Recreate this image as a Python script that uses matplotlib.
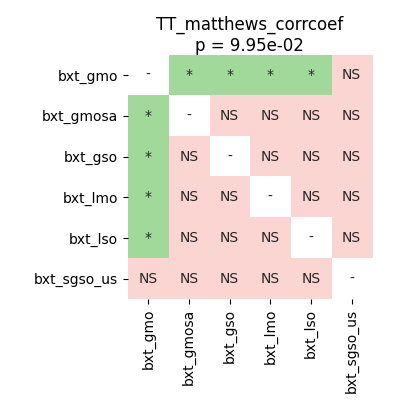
import numpy as np
import matplotlib
matplotlib.use("Agg")
import matplotlib.pyplot as plt
from matplotlib.colors import ListedColormap

labels = ['bxt_gmo', 'bxt_gmosa', 'bxt_gso', 'bxt_lmo', 'bxt_lso', 'bxt_sgso_us']
# significance annotations, row by row
annot = [
    ['-', '*', '*', '*', '*', 'NS'],
    ['*', '-', 'NS', 'NS', 'NS', 'NS'],
    ['*', 'NS', '-', 'NS', 'NS', 'NS'],
    ['*', 'NS', 'NS', '-', 'NS', 'NS'],
    ['*', 'NS', 'NS', 'NS', '-', 'NS'],
    ['NS', 'NS', 'NS', 'NS', 'NS', '-'],
]
title = 'TT_matthews_corrcoef\np = 9.95e-02'

# 0 = diagonal, 1 = significant, 2 = not significant
codes = {'-': 0, '*': 1, 'NS': 2}
grid = np.array([[codes[a] for a in row] for row in annot])
cmap = ListedColormap(['white', '#a1d99b', '#fbd5d2'])

fig = plt.figure(figsize=(4.06, 4.09), dpi=100)
ax = fig.add_axes([0.315, 0.269, 0.601, 0.597])
ax.imshow(grid, cmap=cmap, vmin=0, vmax=2, aspect='auto')
for i in range(len(labels)):
    for j in range(len(labels)):
        ax.text(j, i, annot[i][j], ha='center', va='center', fontsize=10, color='#262626')

ax.set_xticks(range(len(labels)))
ax.set_xticklabels(labels, rotation=90)
ax.set_yticks(range(len(labels)))
ax.set_yticklabels(labels)
for s in ax.spines.values():
    s.set_visible(False)
ax.set_title(title, fontsize=12, pad=3)

fig.savefig('out.png', dpi=100)
